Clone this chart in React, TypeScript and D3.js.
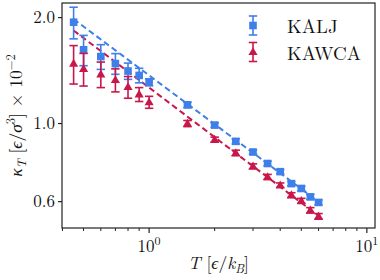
import React, { useEffect, useRef } from 'react';
import * as d3 from 'd3';

// temperatures (reduced units)
const temps = [0.45, 0.5, 0.6, 0.7, 0.8, 0.9, 1.0, 1.5, 2.0, 2.5, 3.0, 3.5, 4.0, 4.5, 5.0, 5.5, 6.0];

// compressibility values, x 10^-2
const kaljVals = [1.94, 1.62, 1.55, 1.48, 1.41, 1.37, 1.31, 1.13, 0.99, 0.89, 0.83, 0.77, 0.73, 0.675, 0.654, 0.619, 0.597];
const kaljErr = [0.2, 0.16, 0.125, 0.1, 0.075, 0.065, 0.03, 0.02, 0.015, 0.015, 0.012, 0.012, 0.01, 0.01, 0.01, 0.01, 0.01];
const kawcaVals = [1.48, 1.43, 1.38, 1.33, 1.27, 1.21, 1.15, 1.0, 0.9, 0.825, 0.756, 0.705, 0.668, 0.626, 0.603, 0.567, 0.545];
const kawcaErr = [0.185, 0.152, 0.115, 0.1, 0.09, 0.055, 0.045, 0.02, 0.015, 0.015, 0.012, 0.012, 0.01, 0.01, 0.01, 0.01, 0.01];

// power-law fits  kappa = a * T^b
const kaljFit = { a: 1.37, b: -0.461 };
const kawcaFit = { a: 1.265, b: -0.468 };
const fitRange = [0.45, 6.0];

const yTicks = [0.6, 1.0, 2.0];
const xMajor = [1, 10];
const xMinor = [0.4, 0.5, 0.6, 0.7, 0.8, 0.9, 2, 3, 4, 5, 6, 7, 8, 9];

const BLUE = '#3f7fe9';
const RED = '#c8174a';
const FONT = "'Latin Modern Roman', 'Liberation Serif', serif";

const App: React.FC = () => {
  const svgRef = useRef<SVGSVGElement | null>(null);

  useEffect(() => {
    const W = 380, H = 280;
    const m = { left: 62, right: 5, top: 3, bottom: 52 };
    const svg = d3.select(svgRef.current);
    svg.selectAll('*').remove();
    svg.attr('width', W).attr('height', H).style('background', 'white');

    const x = d3.scaleLog().domain([0.398, 10.9]).range([m.left, W - m.right]);
    const y = d3.scaleLog().domain([0.505, 2.2]).range([H - m.bottom, m.top]);

    const root = svg.append('g').style('font-family', FONT);

    // fit lines
    const fits = [
      { fit: kaljFit, color: BLUE },
      { fit: kawcaFit, color: RED },
    ];
    fits.forEach(({ fit, color }) => {
      const pts = d3.range(0, 21).map(i => fitRange[0] * Math.pow(fitRange[1] / fitRange[0], i / 20));
      const l = d3.line<number>().x(t => x(t)).y(t => y(fit.a * Math.pow(t, fit.b)));
      root.append('path')
        .attr('d', l(pts) || '')
        .attr('fill', 'none')
        .attr('stroke', color)
        .attr('stroke-width', 2)
        .attr('stroke-dasharray', '6,3.5');
    });

    const cap = 4.2;
    const drawErr = (g: any, cx: number, yTop: number, yBot: number, color: string) => {
      g.append('line').attr('x1', cx).attr('x2', cx).attr('y1', yTop).attr('y2', yBot)
        .attr('stroke', color).attr('stroke-width', 1.6);
      [yTop, yBot].forEach(yy => {
        g.append('line').attr('x1', cx - cap).attr('x2', cx + cap).attr('y1', yy).attr('y2', yy)
          .attr('stroke', color).attr('stroke-width', 1.6);
      });
    };
    const square = (g: any, cx: number, cy: number, color: string) => {
      g.append('rect').attr('x', cx - 3.8).attr('y', cy - 3.8).attr('width', 7.6).attr('height', 7.6)
        .attr('fill', color);
    };
    const triangle = (g: any, cx: number, cy: number, color: string) => {
      const r = 4.8;
      g.append('path')
        .attr('d', `M${cx},${cy - r} L${cx + r * 0.95},${cy + r * 0.65} L${cx - r * 0.95},${cy + r * 0.65} Z`)
        .attr('fill', color);
    };

    const series = [
      { vals: kaljVals, err: kaljErr, color: BLUE, marker: square },
      { vals: kawcaVals, err: kawcaErr, color: RED, marker: triangle },
    ];
    series.forEach(s => {
      const g = root.append('g');
      temps.forEach((t, i) => {
        const cx = x(t);
        drawErr(g, cx, y(s.vals[i] + s.err[i]), y(s.vals[i] - s.err[i]), s.color);
        s.marker(g, cx, y(s.vals[i]), s.color);
      });
    });

    // frame
    root.append('rect')
      .attr('x', m.left).attr('y', m.top)
      .attr('width', W - m.right - m.left).attr('height', H - m.bottom - m.top)
      .attr('fill', 'none').attr('stroke', '#222').attr('stroke-width', 1.2);

    const yB = H - m.bottom;
    // x ticks
    xMajor.forEach(t => {
      root.append('line').attr('x1', x(t)).attr('x2', x(t)).attr('y1', yB).attr('y2', yB + 5)
        .attr('stroke', '#222').attr('stroke-width', 1.2);
      const tx = root.append('text').attr('x', x(t)).attr('y', yB + 24)
        .attr('text-anchor', 'middle').attr('font-size', 17).attr('fill', '#111');
      tx.append('tspan').text('10');
      tx.append('tspan').attr('font-size', 12).attr('dy', -7).text(String(Math.round(Math.log10(t))));
    });
    xMinor.forEach(t => {
      root.append('line').attr('x1', x(t)).attr('x2', x(t)).attr('y1', yB).attr('y2', yB + 3)
        .attr('stroke', '#222').attr('stroke-width', 1);
    });
    // y ticks
    yTicks.forEach(v => {
      root.append('line').attr('x1', m.left - 4).attr('x2', m.left).attr('y1', y(v)).attr('y2', y(v))
        .attr('stroke', '#222').attr('stroke-width', 1.2);
      root.append('text').attr('x', m.left - 7).attr('y', y(v) + 5.5)
        .attr('text-anchor', 'end').attr('font-size', 17).attr('fill', '#111')
        .text(v.toFixed(1));
    });

    // x label
    const xl = root.append('text').attr('x', (m.left + W - m.right) / 2).attr('y', 269)
      .attr('text-anchor', 'middle').attr('font-size', 17.5).attr('fill', '#111');
    xl.append('tspan').attr('font-style', 'italic').text('T');
    xl.append('tspan').text(' [');
    xl.append('tspan').attr('font-style', 'italic').text('ϵ');
    xl.append('tspan').text('/');
    xl.append('tspan').attr('font-style', 'italic').text('k');
    xl.append('tspan').attr('font-style', 'italic').attr('font-size', 12.5).attr('dy', 4).text('B');
    xl.append('tspan').attr('dy', -4).text(']');

    // y label
    const yl = root.append('text')
      .attr('transform', `translate(22,${(m.top + yB) / 2}) rotate(-90)`)
      .attr('text-anchor', 'middle').attr('font-size', 17.5).attr('fill', '#111');
    yl.append('tspan').attr('font-style', 'italic').text('κ');
    yl.append('tspan').attr('font-style', 'italic').attr('font-size', 12.5).attr('dy', 4).text('T');
    yl.append('tspan').attr('dy', -4).text(' [');
    yl.append('tspan').attr('font-style', 'italic').text('ϵ');
    yl.append('tspan').text('/');
    yl.append('tspan').attr('font-style', 'italic').text('σ');
    yl.append('tspan').attr('font-size', 12.5).attr('dy', -7).text('3');
    yl.append('tspan').attr('dy', 7).text('] × 10');
    yl.append('tspan').attr('font-size', 12.5).attr('dy', -7).text('−2');

    // legend
    const legend = [
      { label: 'KALJ', color: BLUE, marker: square },
      { label: 'KAWCA', color: RED, marker: triangle },
    ];
    legend.forEach((d, i) => {
      const cy = 25.5 + i * 26.5;
      const g = root.append('g');
      drawErr(g, 253, cy - 9.5, cy + 9.5, d.color);
      d.marker(g, 253, cy, d.color);
      root.append('text').attr('x', 287).attr('y', cy + 7.5)
        .attr('font-size', 19).attr('fill', '#111').text(d.label);
    });
  }, []);

  return (
    <div style={{ position: 'absolute', left: 0, top: 0 }}>
      <svg ref={svgRef} style={{ display: 'block' }}></svg>
    </div>
  );
};

export default App;
